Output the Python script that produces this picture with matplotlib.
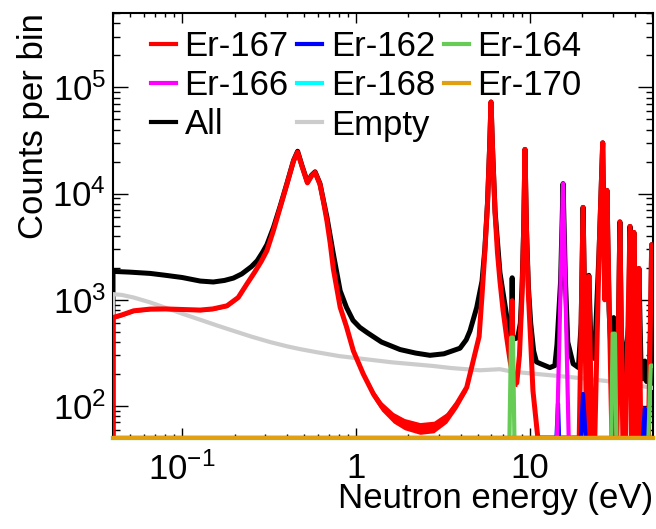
import numpy as np
import matplotlib
matplotlib.use("Agg")
import matplotlib.pyplot as plt
from matplotlib.lines import Line2D
from matplotlib.ticker import LogLocator, FixedLocator, FixedFormatter, NullFormatter

plt.rcParams['font.family'] = ['Liberation Sans', 'DejaVu Sans']
plt.rcParams['mathtext.fontset'] = 'custom'
plt.rcParams['mathtext.rm'] = 'Liberation Sans'
plt.rcParams['mathtext.it'] = 'Liberation Sans:italic'
plt.rcParams['mathtext.bf'] = 'Liberation Sans:bold'

# ---------------- data ----------------
er167_e = [0.040, 0.045, 0.0526, 0.0655, 0.08, 0.10, 0.127, 0.15, 0.181, 0.21, 0.235,
           0.26, 0.285, 0.307, 0.335, 0.366, 0.40, 0.437, 0.461, 0.49, 0.525, 0.555,
           0.581, 0.62, 0.65, 0.68, 0.71, 0.74, 0.81, 0.88, 0.965, 1.1, 1.26, 1.4, 1.64,
           1.9, 2.33, 2.8, 3.32, 3.8, 4.33, 4.8, 5.1, 5.3, 5.5, 5.7, 5.85, 5.97,
           6.1, 6.3, 6.5, 6.72, 7.0, 7.35, 7.7, 7.85, 7.9, 7.95, 8.2, 8.4, 8.7, 9.0, 9.2,
           9.36, 9.55, 9.8, 10.1, 10.4, 11.1, 11.5, 19.2, 20.2, 21.2, 21.8, 22.7, 23.6,
           25.0, 26.2, 26.9, 27.7, 29.6, 31.6, 32.9, 34.2, 35.5, 37.6, 38.6, 39.6, 41.2,
           42.3, 43.4, 48.0, 50.1, 51.0]
er167_c = [680, 720, 787, 817, 820, 810, 800, 820, 877, 1050, 1400,
           1800, 2300, 2900, 4500, 7400, 12200, 20300, 24500, 17800, 12600, 14700,
           15800, 12200, 8300, 5500, 3400, 1950, 850, 560, 330, 200, 129, 100, 78,
           68, 62, 64, 78, 105, 150, 300, 450, 1100, 2800, 8000, 25000, 72600,
           25000, 6500, 2800, 1500, 800, 440, 260, 220, 980, 210, 166, 165, 300, 1100, 4500,
           26000, 4500, 1100, 400, 140, 50, 0, 0, 7400, 0, 1660, 0, 0,
           3000, 30000, 1000, 10700, 0, 0, 5400, 0, 0, 4900, 0, 4300, 0,
           1970, 0, 0, 3300, 1500]

er162_e = [0.040, 14.2, 14.5, 14.7, 19.6, 20.2, 20.9, 44.5, 45.8, 47.0, 51.0]
er162_c = [0, 0, 105, 0, 0, 130, 0, 0, 95, 0, 0]

er164_e = [0.040, 7.62, 7.78, 7.98, 8.14, 29.3, 29.9, 30.8, 31.4, 48.0, 49.5, 51.0]
er164_c = [0, 0, 440, 440, 0, 0, 480, 480, 0, 0, 240, 240]

er166_e = [0.040, 14.3, 15.5, 16.7, 51.0]
er166_c = [0, 0, 12400, 0, 0]

er168_e = [0.040, 51.0]
er168_c = [0, 0]

er170_e = [0.040, 51.0]
er170_c = [0, 0]

all_e = [0.040, 0.05, 0.0655, 0.08, 0.10, 0.127, 0.151, 0.175, 0.197, 0.22, 0.25, 0.27,
         0.29, 0.307, 0.335, 0.366, 0.40, 0.437, 0.461, 0.49, 0.525, 0.555, 0.581,
         0.62, 0.65, 0.68, 0.74, 0.81, 0.88, 0.96, 1.05, 1.16, 1.4, 1.79, 2.2, 2.66,
         3.2, 3.96, 4.3, 4.52, 4.94, 5.3, 5.5, 5.7, 5.85, 5.97, 6.1, 6.3, 6.72, 7.35,
         7.7, 7.85, 7.9, 7.95, 8.2, 8.5, 8.8, 9.0, 9.2, 9.36, 9.55, 9.8, 10.1, 10.5,
         10.9, 11.5, 13.0, 13.9, 14.3, 15.0, 15.5, 16.0, 16.5, 17.7, 19.0, 19.7, 20.2,
         20.7, 21.3, 21.8, 22.4, 23.5, 25.0, 26.2, 26.9, 27.7, 28.5, 29.5, 30.3, 31.0,
         32.3, 32.9, 33.5, 35.0, 37.0, 37.6, 38.6, 39.6, 40.5, 41.5, 42.3, 43.5, 45.0,
         45.8, 46.8, 48.5, 49.5, 50.1, 51.0]
all_c = [1850, 1820, 1770, 1700, 1620, 1500, 1470, 1520, 1600, 1750, 2050, 2330,
         2800, 3300, 4800, 7600, 12400, 20500, 25000, 18000, 12800, 14900, 16000,
         12400, 8500, 5970, 2700, 1215, 850, 640, 550, 490, 400, 340, 315, 300,
         310, 350, 420, 510, 846, 1500, 3000, 8200, 25000, 72600, 25000, 6800, 1800, 700,
         480, 450, 1610, 450, 430, 440, 600, 1300, 4600, 26000, 4600, 1300, 600, 330,
         260, 250, 230, 240, 380, 1500, 12400, 1500, 400, 250, 230, 600, 7400,
         700, 400, 1700, 400, 280, 3000, 30000, 1200, 10700, 800, 250, 680, 220,
         600, 5400, 500, 200, 600, 4900, 900, 4300, 500, 400, 1970, 250, 180,
         265, 170, 180, 600, 3300, 1500]

empty_e = [0.040, 0.045, 0.0526, 0.0655, 0.082, 0.10, 0.13, 0.16, 0.197, 0.25, 0.32,
           0.40, 0.477, 0.60, 0.80, 1.15, 1.6, 2.1, 2.78, 3.5, 4.3, 5.16, 6.7, 8.0,
           11.4, 17.7, 27.5, 42.9, 51.0]
empty_c = [1130, 1110, 1050, 944, 830, 740, 640, 570, 510, 450, 400,
           365, 343, 320, 295, 275, 258, 248, 238, 228, 222, 217, 222, 210,
           199, 186, 172, 155, 148]

labels = ['Er-167', 'Er-162', 'Er-164', 'Er-166', 'Er-168', 'Er-170', 'All', 'Empty']
colors = ['#ff0000', '#0000ff', '#66cc55', '#ff00ff', '#00ffff', '#e0a010', '#000000', '#cccccc']

x_ticks = [0.1, 1, 10]
x_ticklabels = [r'$10^{-1}$', '1', '10']
y_ticks = [1e2, 1e3, 1e4, 1e5]
y_ticklabels = [r'$10^{2}$', r'$10^{3}$', r'$10^{4}$', r'$10^{5}$']

XMIN, XMAX = 0.04, 51.0
YMIN, YMAX = 50.0, 5.0e5

# ---------------- figure ----------------
fig = plt.figure(figsize=(6.56, 5.29), dpi=100)
ax = fig.add_axes([113/656, 1 - 438/529, 540/656, 425/529])


def draw(e, c, color, lw, z, band=False, clip=True):
    e = np.asarray(e, float)
    c = np.asarray(c, float)
    x = np.r_[e[0], e]
    y = np.clip(np.r_[0.0, c], YMIN, None)
    ax.plot(x, y, color=color, lw=lw, zorder=z, solid_joinstyle='round', clip_on=clip)
    if band:
        err = np.sqrt(c)  # Poisson uncertainty of each bin
        lo = np.clip(c - err, YMIN, None)
        hi = np.clip(c + err, YMIN, None)
        ax.fill_between(e, lo, hi, color=color, lw=0, zorder=z)


series = [(all_e, all_c), (empty_e, empty_c), (er167_e, er167_c), (er162_e, er162_c),
          (er164_e, er164_c), (er166_e, er166_c), (er168_e, er168_c), (er170_e, er170_c)]
series_colors = [colors[6], colors[7], colors[0], colors[1], colors[2], colors[3], colors[4], colors[5]]
widths = [3.6, 3.0, 3.6, 3.0, 3.0, 3.0, 3.0, 3.0]
for i, ((e, c), col, w) in enumerate(zip(series, series_colors, widths)):
    draw(e, c, col, w, 2 + i, band=(i == 2), clip=(i < 6))

ax.set_xscale('log')
ax.set_yscale('log')
ax.set_xlim(XMIN, XMAX)
ax.set_ylim(YMIN, YMAX)

ax.xaxis.set_major_locator(FixedLocator(x_ticks))
ax.xaxis.set_major_formatter(FixedFormatter(x_ticklabels))
ax.xaxis.set_minor_locator(LogLocator(base=10, subs=np.arange(2, 10), numticks=30))
ax.xaxis.set_minor_formatter(NullFormatter())
ax.yaxis.set_major_locator(FixedLocator(y_ticks))
ax.yaxis.set_major_formatter(FixedFormatter(y_ticklabels))
ax.yaxis.set_minor_locator(LogLocator(base=10, subs=np.arange(2, 10), numticks=30))
ax.yaxis.set_minor_formatter(NullFormatter())

ax.tick_params(which='both', direction='in', top=True, right=True, width=1.0, labelsize=25)
ax.tick_params(axis='y', which='major', length=10.5, pad=5)
ax.tick_params(axis='y', which='minor', length=5)
ax.tick_params(axis='x', which='major', length=7.2, pad=10)
ax.tick_params(axis='x', which='minor', length=3)
for s in ax.spines.values():
    s.set_linewidth(1.5)

ax.set_xlabel('Neutron energy (eV)', fontsize=25, loc='right', labelpad=-3)
ax.set_ylabel('Counts per bin', fontsize=25, loc='top', labelpad=2)

# legend: ROOT-style row-wise ordering in 3 columns
handles = {lab: Line2D([], [], color=col, lw=3.0) for lab, col in zip(labels, colors)}
order = ['Er-167', 'Er-166', 'All', 'Er-162', 'Er-168', 'Empty', 'Er-164', 'Er-170']
ax.legend([handles[k] for k in order], order, ncol=3, loc='upper left',
          bbox_to_anchor=(0.07, 0.96), frameon=False, fontsize=25,
          handlelength=0.72, handletextpad=0.25, columnspacing=0.25,
          labelspacing=0.18, borderpad=0, borderaxespad=0)

fig.savefig('out.png', dpi=100)
